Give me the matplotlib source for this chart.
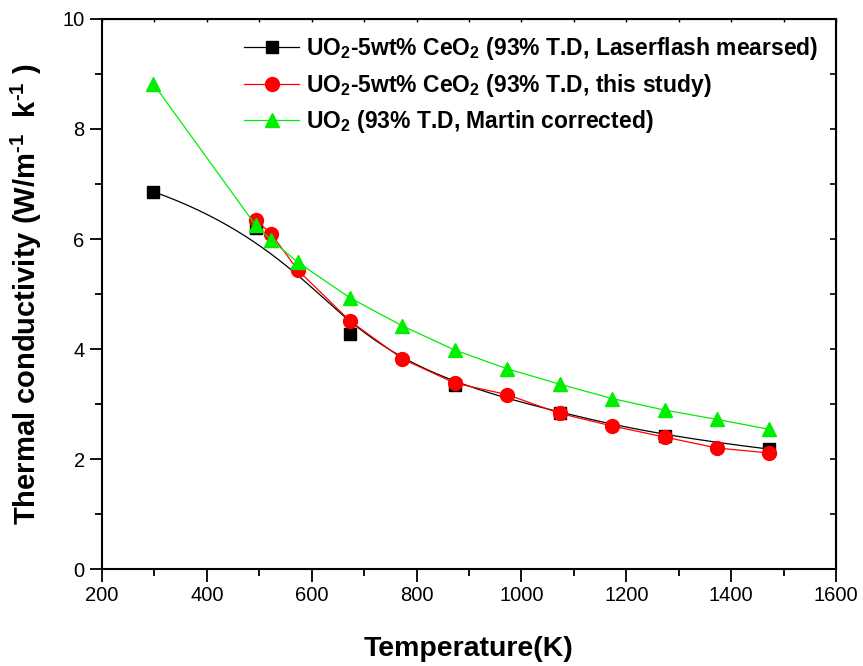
import numpy as np
import matplotlib
matplotlib.use("Agg")
from matplotlib import pyplot as plt
from matplotlib.ticker import MultipleLocator

plt.rcParams['font.family'] = ['Liberation Sans', 'DejaVu Sans']
plt.rcParams['mathtext.fontset'] = 'custom'
plt.rcParams['mathtext.rm'] = 'Liberation Sans:bold'
plt.rcParams['mathtext.default'] = 'rm'

# laserflash measured (black squares)
t_laser = [298, 493, 673, 873, 1073, 1273, 1473]
k_laser = [6.86, 6.20, 4.27, 3.35, 2.84, 2.41, 2.18]

# this study (red circles)
t_study = [493, 523, 573, 673, 773, 873, 973, 1073, 1173, 1273, 1373, 1473]
k_study = [6.35, 6.09, 5.44, 4.51, 3.82, 3.38, 3.17, 2.83, 2.60, 2.40, 2.20, 2.11]

# Martin corrected UO2 (green triangles)
t_martin = [298, 493, 523, 573, 673, 773, 873, 973, 1073, 1173, 1273, 1373, 1473]
k_martin = [8.82, 6.25, 5.98, 5.58, 4.93, 4.42, 3.98, 3.64, 3.36, 3.10, 2.89, 2.72, 2.54]

labels = [r'UO$_2$-5wt% CeO$_2$ (93% T.D, Laserflash mearsed)',
          r'UO$_2$-5wt% CeO$_2$ (93% T.D, this study)',
          r'UO$_2$ (93% T.D, Martin corrected)']


def bspline(px, py, n=300, deg=3):
    # clamped B-spline with the data points as control points
    px = np.asarray(px, float)
    py = np.asarray(py, float)
    m = len(px)
    knots = np.concatenate([np.zeros(deg), np.arange(m - deg + 1), np.full(deg, m - deg)])
    u = np.linspace(0, m - deg, n)
    u[-1] -= 1e-9
    N = np.zeros((n, len(knots) - 1))
    for i in range(len(knots) - 1):
        N[:, i] = (u >= knots[i]) & (u < knots[i + 1])
    for d in range(1, deg + 1):
        Nn = np.zeros((n, len(knots) - 1 - d))
        for i in range(len(knots) - 1 - d):
            a = knots[i + d] - knots[i]
            b = knots[i + d + 1] - knots[i + 1]
            t1 = (u - knots[i]) / a * N[:, i] if a > 0 else 0
            t2 = (knots[i + d + 1] - u) / b * N[:, i + 1] if b > 0 else 0
            Nn[:, i] = t1 + t2
        N = Nn
    return N @ px, N @ py


fig = plt.figure(figsize=(8.63, 6.66), dpi=100)
ax = fig.add_axes([0.1182, 0.1456, 0.8505, 0.8259])

bx, by = bspline(t_laser, k_laser)
ax.plot(bx, by, color='black', lw=0.9)
ax.plot(t_laser, k_laser, 's', color='black', ms=8.5)
ax.plot([], [], '-s', color='black', lw=0.9, ms=8.5, label=labels[0])

ax.plot(t_study, k_study, '-o', color='red', lw=0.9, ms=10, label=labels[1])
ax.plot(t_martin, k_martin, '-^', color='#00ee00', lw=0.9, ms=10.5, label=labels[2])

ax.set_xlim(200, 1600)
ax.set_ylim(0, 10)
ax.xaxis.set_major_locator(MultipleLocator(200))
ax.xaxis.set_minor_locator(MultipleLocator(100))
ax.yaxis.set_major_locator(MultipleLocator(2))
ax.yaxis.set_minor_locator(MultipleLocator(1))
ax.tick_params(which='major', direction='out', length=9, width=1.3, labelsize=14.5)
ax.tick_params(which='minor', direction='out', length=5, width=1.3)
for s in ax.spines.values():
    s.set_linewidth(1.5)

# small inward ticks on the right and top spines
sec_y = ax.secondary_yaxis('right')
sec_y.yaxis.set_major_locator(MultipleLocator(2))
sec_y.yaxis.set_minor_locator(MultipleLocator(1))
sec_y.tick_params(which='both', direction='in', length=4, width=1.2, labelright=False)
sec_x = ax.secondary_xaxis('top')
sec_x.xaxis.set_major_locator(MultipleLocator(200))
sec_x.xaxis.set_minor_locator(MultipleLocator(100))
sec_x.tick_params(which='both', direction='in', length=2, width=1.0, labeltop=False)

ax.set_xlabel('Temperature(K)', fontsize=20.5, fontweight='bold', labelpad=22)
ax.set_ylabel('Thermal conductivity (W/m$^{\u2010 1}$  k$^{\u2010 1}$ )', fontsize=21,
              fontweight='bold', labelpad=13)

leg = ax.legend(loc='upper right', frameon=False, prop={'weight': 'bold', 'size': 16.5},
                handlelength=2.4, handletextpad=0.3, labelspacing=0.4,
                borderaxespad=0.2, bbox_to_anchor=(0.995, 0.995))

fig.savefig('out.png', dpi=100)
